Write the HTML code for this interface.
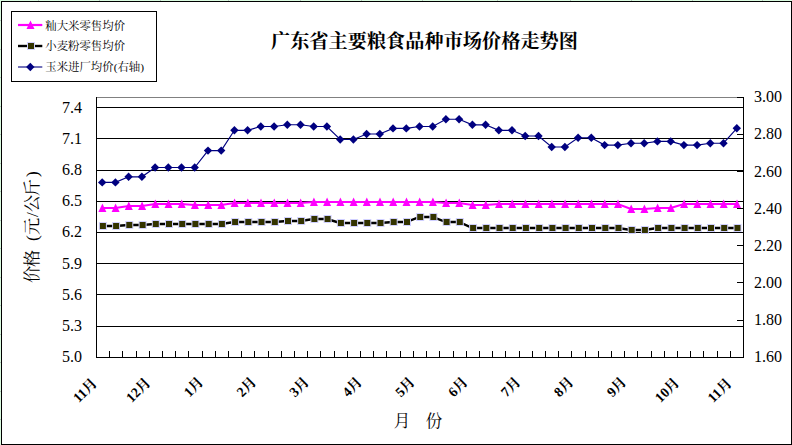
<!DOCTYPE html>
<html><head><meta charset="utf-8"><title>广东省主要粮食品种市场价格走势图</title>
<style>html,body{margin:0;padding:0;background:#fff;overflow:hidden}svg{display:block}text{font-family:"Liberation Serif","Noto Serif CJK SC",serif;fill:#000;stroke:none}</style></head><body>
<svg width="792" height="445" viewBox="0 0 792 445">
<rect x="0" y="0" width="792" height="445" fill="#fff"/>
<g shape-rendering="crispEdges">
<rect x="0" y="0" width="792" height="1" fill="#dafbe0"/><rect x="0" y="0" width="1" height="445" fill="#dafbe0"/>
<rect x="38" y="0" width="1" height="1" fill="#b9c9c0"/>
<rect x="99" y="0" width="1" height="1" fill="#b9c9c0"/>
<rect x="160" y="0" width="1" height="1" fill="#b9c9c0"/>
<rect x="228" y="0" width="1" height="1" fill="#b9c9c0"/>
<rect x="300" y="0" width="1" height="1" fill="#b9c9c0"/>
<rect x="361" y="0" width="1" height="1" fill="#b9c9c0"/>
<rect x="422" y="0" width="1" height="1" fill="#b9c9c0"/>
<rect x="497" y="0" width="1" height="1" fill="#b9c9c0"/>
<rect x="570" y="0" width="1" height="1" fill="#b9c9c0"/>
<rect x="631" y="0" width="1" height="1" fill="#b9c9c0"/>
<rect x="692" y="0" width="1" height="1" fill="#b9c9c0"/>
<rect x="762" y="0" width="1" height="1" fill="#b9c9c0"/>
<rect x="0" y="20" width="1" height="1" fill="#b9c9c0"/>
<rect x="0" y="49" width="1" height="1" fill="#b9c9c0"/>
<rect x="0" y="77" width="1" height="1" fill="#b9c9c0"/>
<rect x="0" y="106" width="1" height="1" fill="#b9c9c0"/>
<rect x="0" y="134" width="1" height="1" fill="#b9c9c0"/>
<rect x="0" y="163" width="1" height="1" fill="#b9c9c0"/>
<rect x="0" y="191" width="1" height="1" fill="#b9c9c0"/>
<rect x="0" y="220" width="1" height="1" fill="#b9c9c0"/>
<rect x="0" y="248" width="1" height="1" fill="#b9c9c0"/>
<rect x="0" y="277" width="1" height="1" fill="#b9c9c0"/>
<rect x="0" y="305" width="1" height="1" fill="#b9c9c0"/>
<rect x="0" y="334" width="1" height="1" fill="#b9c9c0"/>
<rect x="0" y="362" width="1" height="1" fill="#b9c9c0"/>
<rect x="0" y="391" width="1" height="1" fill="#b9c9c0"/>
<rect x="0" y="419" width="1" height="1" fill="#b9c9c0"/>
<rect x="1.5" y="1.5" width="790" height="443" fill="none" stroke="#000" stroke-width="1"/>
<rect x="11.5" y="11.5" width="145" height="70" fill="#fff" stroke="#000" stroke-width="1"/>
<rect x="96" y="97" width="648" height="1" fill="#808080"/>
<rect x="96" y="107" width="647" height="1" fill="#000"/>
<rect x="96" y="138" width="647" height="1" fill="#000"/>
<rect x="96" y="170" width="647" height="1" fill="#000"/>
<rect x="96" y="201" width="647" height="1" fill="#000"/>
<rect x="96" y="232" width="647" height="1" fill="#000"/>
<rect x="96" y="263" width="647" height="1" fill="#000"/>
<rect x="96" y="294" width="647" height="1" fill="#000"/>
<rect x="96" y="326" width="647" height="1" fill="#000"/>
<rect x="96" y="97" width="1" height="261" fill="#000"/>
<rect x="743" y="97" width="1" height="261" fill="#000"/>
<rect x="96" y="357" width="648" height="1" fill="#000"/>
<rect x="109" y="351" width="1" height="6" fill="#000"/>
<rect x="122" y="351" width="1" height="6" fill="#000"/>
<rect x="136" y="351" width="1" height="6" fill="#000"/>
<rect x="149" y="351" width="1" height="6" fill="#000"/>
<rect x="162" y="351" width="1" height="6" fill="#000"/>
<rect x="175" y="351" width="1" height="6" fill="#000"/>
<rect x="188" y="351" width="1" height="6" fill="#000"/>
<rect x="202" y="351" width="1" height="6" fill="#000"/>
<rect x="215" y="351" width="1" height="6" fill="#000"/>
<rect x="228" y="351" width="1" height="6" fill="#000"/>
<rect x="241" y="351" width="1" height="6" fill="#000"/>
<rect x="254" y="351" width="1" height="6" fill="#000"/>
<rect x="268" y="351" width="1" height="6" fill="#000"/>
<rect x="281" y="351" width="1" height="6" fill="#000"/>
<rect x="294" y="351" width="1" height="6" fill="#000"/>
<rect x="307" y="351" width="1" height="6" fill="#000"/>
<rect x="320" y="351" width="1" height="6" fill="#000"/>
<rect x="334" y="351" width="1" height="6" fill="#000"/>
<rect x="347" y="351" width="1" height="6" fill="#000"/>
<rect x="360" y="351" width="1" height="6" fill="#000"/>
<rect x="373" y="351" width="1" height="6" fill="#000"/>
<rect x="386" y="351" width="1" height="6" fill="#000"/>
<rect x="400" y="351" width="1" height="6" fill="#000"/>
<rect x="413" y="351" width="1" height="6" fill="#000"/>
<rect x="426" y="351" width="1" height="6" fill="#000"/>
<rect x="439" y="351" width="1" height="6" fill="#000"/>
<rect x="453" y="351" width="1" height="6" fill="#000"/>
<rect x="466" y="351" width="1" height="6" fill="#000"/>
<rect x="479" y="351" width="1" height="6" fill="#000"/>
<rect x="492" y="351" width="1" height="6" fill="#000"/>
<rect x="505" y="351" width="1" height="6" fill="#000"/>
<rect x="519" y="351" width="1" height="6" fill="#000"/>
<rect x="532" y="351" width="1" height="6" fill="#000"/>
<rect x="545" y="351" width="1" height="6" fill="#000"/>
<rect x="558" y="351" width="1" height="6" fill="#000"/>
<rect x="571" y="351" width="1" height="6" fill="#000"/>
<rect x="585" y="351" width="1" height="6" fill="#000"/>
<rect x="598" y="351" width="1" height="6" fill="#000"/>
<rect x="611" y="351" width="1" height="6" fill="#000"/>
<rect x="624" y="351" width="1" height="6" fill="#000"/>
<rect x="637" y="351" width="1" height="6" fill="#000"/>
<rect x="651" y="351" width="1" height="6" fill="#000"/>
<rect x="664" y="351" width="1" height="6" fill="#000"/>
<rect x="677" y="351" width="1" height="6" fill="#000"/>
<rect x="690" y="351" width="1" height="6" fill="#000"/>
<rect x="703" y="351" width="1" height="6" fill="#000"/>
<rect x="717" y="351" width="1" height="6" fill="#000"/>
<rect x="730" y="351" width="1" height="6" fill="#000"/>
<rect x="737" y="97" width="6" height="1" fill="#000"/>
<rect x="737" y="134" width="6" height="1" fill="#000"/>
<rect x="737" y="171" width="6" height="1" fill="#000"/>
<rect x="737" y="208" width="6" height="1" fill="#000"/>
<rect x="737" y="245" width="6" height="1" fill="#000"/>
<rect x="737" y="282" width="6" height="1" fill="#000"/>
<rect x="737" y="320" width="6" height="1" fill="#000"/>
<rect x="737" y="357" width="6" height="1" fill="#000"/>
</g>
<polyline points="102.2,182.4 115.4,182.4 128.6,176.8 141.9,176.8 155.1,167.5 168.3,167.5 181.5,167.5 194.7,167.5 208.0,150.6 221.2,150.6 234.4,130.3 247.6,130.3 260.8,126.5 274.1,126.5 287.3,124.7 300.5,124.7 313.7,126.5 326.9,126.5 340.2,139.5 353.4,139.5 366.6,134.0 379.8,134.0 393.0,128.4 406.3,128.4 419.5,126.5 432.7,126.5 445.9,119.2 459.1,119.2 472.4,124.8 485.6,124.8 498.8,130.3 512.0,130.3 525.2,136.0 538.5,136.0 551.7,147.0 564.9,147.0 578.1,137.7 591.3,137.7 604.6,145.1 617.8,145.1 631.0,143.2 644.2,143.2 657.4,141.4 670.7,141.4 683.9,145.1 697.1,145.1 710.3,143.2 723.5,143.2 736.8,128.3" fill="none" stroke="#000080" stroke-width="1.15"/>
<path d="M102.2,178.2L106.4,182.4L102.2,186.6L98.0,182.4Z" fill="#000080"/>
<path d="M115.4,178.2L119.6,182.4L115.4,186.6L111.2,182.4Z" fill="#000080"/>
<path d="M128.6,172.6L132.8,176.8L128.6,181.0L124.4,176.8Z" fill="#000080"/>
<path d="M141.9,172.6L146.1,176.8L141.9,181.0L137.7,176.8Z" fill="#000080"/>
<path d="M155.1,163.3L159.3,167.5L155.1,171.7L150.9,167.5Z" fill="#000080"/>
<path d="M168.3,163.3L172.5,167.5L168.3,171.7L164.1,167.5Z" fill="#000080"/>
<path d="M181.5,163.3L185.7,167.5L181.5,171.7L177.3,167.5Z" fill="#000080"/>
<path d="M194.7,163.3L198.9,167.5L194.7,171.7L190.5,167.5Z" fill="#000080"/>
<path d="M208.0,146.4L212.2,150.6L208.0,154.8L203.8,150.6Z" fill="#000080"/>
<path d="M221.2,146.4L225.4,150.6L221.2,154.8L217.0,150.6Z" fill="#000080"/>
<path d="M234.4,126.1L238.6,130.3L234.4,134.5L230.2,130.3Z" fill="#000080"/>
<path d="M247.6,126.1L251.8,130.3L247.6,134.5L243.4,130.3Z" fill="#000080"/>
<path d="M260.8,122.3L265.0,126.5L260.8,130.7L256.6,126.5Z" fill="#000080"/>
<path d="M274.1,122.3L278.3,126.5L274.1,130.7L269.9,126.5Z" fill="#000080"/>
<path d="M287.3,120.5L291.5,124.7L287.3,128.9L283.1,124.7Z" fill="#000080"/>
<path d="M300.5,120.5L304.7,124.7L300.5,128.9L296.3,124.7Z" fill="#000080"/>
<path d="M313.7,122.3L317.9,126.5L313.7,130.7L309.5,126.5Z" fill="#000080"/>
<path d="M326.9,122.3L331.1,126.5L326.9,130.7L322.7,126.5Z" fill="#000080"/>
<path d="M340.2,135.3L344.4,139.5L340.2,143.7L336.0,139.5Z" fill="#000080"/>
<path d="M353.4,135.3L357.6,139.5L353.4,143.7L349.2,139.5Z" fill="#000080"/>
<path d="M366.6,129.8L370.8,134.0L366.6,138.2L362.4,134.0Z" fill="#000080"/>
<path d="M379.8,129.8L384.0,134.0L379.8,138.2L375.6,134.0Z" fill="#000080"/>
<path d="M393.0,124.2L397.2,128.4L393.0,132.6L388.8,128.4Z" fill="#000080"/>
<path d="M406.3,124.2L410.5,128.4L406.3,132.6L402.1,128.4Z" fill="#000080"/>
<path d="M419.5,122.3L423.7,126.5L419.5,130.7L415.3,126.5Z" fill="#000080"/>
<path d="M432.7,122.3L436.9,126.5L432.7,130.7L428.5,126.5Z" fill="#000080"/>
<path d="M445.9,115.0L450.1,119.2L445.9,123.4L441.7,119.2Z" fill="#000080"/>
<path d="M459.1,115.0L463.3,119.2L459.1,123.4L454.9,119.2Z" fill="#000080"/>
<path d="M472.4,120.6L476.6,124.8L472.4,129.0L468.2,124.8Z" fill="#000080"/>
<path d="M485.6,120.6L489.8,124.8L485.6,129.0L481.4,124.8Z" fill="#000080"/>
<path d="M498.8,126.1L503.0,130.3L498.8,134.5L494.6,130.3Z" fill="#000080"/>
<path d="M512.0,126.1L516.2,130.3L512.0,134.5L507.8,130.3Z" fill="#000080"/>
<path d="M525.2,131.8L529.4,136.0L525.2,140.2L521.0,136.0Z" fill="#000080"/>
<path d="M538.5,131.8L542.7,136.0L538.5,140.2L534.3,136.0Z" fill="#000080"/>
<path d="M551.7,142.8L555.9,147.0L551.7,151.2L547.5,147.0Z" fill="#000080"/>
<path d="M564.9,142.8L569.1,147.0L564.9,151.2L560.7,147.0Z" fill="#000080"/>
<path d="M578.1,133.5L582.3,137.7L578.1,141.9L573.9,137.7Z" fill="#000080"/>
<path d="M591.3,133.5L595.5,137.7L591.3,141.9L587.1,137.7Z" fill="#000080"/>
<path d="M604.6,140.9L608.8,145.1L604.6,149.3L600.4,145.1Z" fill="#000080"/>
<path d="M617.8,140.9L622.0,145.1L617.8,149.3L613.6,145.1Z" fill="#000080"/>
<path d="M631.0,139.0L635.2,143.2L631.0,147.4L626.8,143.2Z" fill="#000080"/>
<path d="M644.2,139.0L648.4,143.2L644.2,147.4L640.0,143.2Z" fill="#000080"/>
<path d="M657.4,137.2L661.6,141.4L657.4,145.6L653.2,141.4Z" fill="#000080"/>
<path d="M670.7,137.2L674.9,141.4L670.7,145.6L666.5,141.4Z" fill="#000080"/>
<path d="M683.9,140.9L688.1,145.1L683.9,149.3L679.7,145.1Z" fill="#000080"/>
<path d="M697.1,140.9L701.3,145.1L697.1,149.3L692.9,145.1Z" fill="#000080"/>
<path d="M710.3,139.0L714.5,143.2L710.3,147.4L706.1,143.2Z" fill="#000080"/>
<path d="M723.5,139.0L727.7,143.2L723.5,147.4L719.3,143.2Z" fill="#000080"/>
<path d="M736.8,124.1L741.0,128.3L736.8,132.5L732.6,128.3Z" fill="#000080"/>
<polyline points="102.2,208.0 115.4,208.0 128.6,206.0 141.9,206.0 155.1,204.0 168.3,204.0 181.5,204.0 194.7,205.0 208.0,205.0 221.2,205.0 234.4,203.0 247.6,203.0 260.8,203.0 274.1,203.0 287.3,203.0 300.5,203.0 313.7,202.0 326.9,202.0 340.2,202.0 353.4,202.0 366.6,202.0 379.8,202.0 393.0,202.0 406.3,202.0 419.5,202.0 432.7,202.0 445.9,203.0 459.1,203.0 472.4,205.0 485.6,205.0 498.8,204.0 512.0,204.0 525.2,204.0 538.5,204.0 551.7,204.0 564.9,204.0 578.1,204.0 591.3,204.0 604.6,204.0 617.8,204.0 631.0,209.0 644.2,209.0 657.4,208.0 670.7,208.0 683.9,204.0 697.1,204.0 710.3,204.0 723.5,204.0 736.8,204.0" fill="none" stroke="#ff00ff" stroke-width="2.05"/>
<path d="M102.4,203.4L106.4,212.0L98.4,212.0Z" fill="#ff00ff"/>
<path d="M115.6,203.4L119.6,212.0L111.6,212.0Z" fill="#ff00ff"/>
<path d="M128.8,201.4L132.8,210.0L124.8,210.0Z" fill="#ff00ff"/>
<path d="M142.1,201.4L146.1,210.0L138.1,210.0Z" fill="#ff00ff"/>
<path d="M155.3,199.4L159.3,208.0L151.3,208.0Z" fill="#ff00ff"/>
<path d="M168.5,199.4L172.5,208.0L164.5,208.0Z" fill="#ff00ff"/>
<path d="M181.7,199.4L185.7,208.0L177.7,208.0Z" fill="#ff00ff"/>
<path d="M194.9,200.4L198.9,209.0L190.9,209.0Z" fill="#ff00ff"/>
<path d="M208.2,200.4L212.2,209.0L204.2,209.0Z" fill="#ff00ff"/>
<path d="M221.4,200.4L225.4,209.0L217.4,209.0Z" fill="#ff00ff"/>
<path d="M234.6,198.4L238.6,207.0L230.6,207.0Z" fill="#ff00ff"/>
<path d="M247.8,198.4L251.8,207.0L243.8,207.0Z" fill="#ff00ff"/>
<path d="M261.0,198.4L265.0,207.0L257.0,207.0Z" fill="#ff00ff"/>
<path d="M274.3,198.4L278.3,207.0L270.3,207.0Z" fill="#ff00ff"/>
<path d="M287.5,198.4L291.5,207.0L283.5,207.0Z" fill="#ff00ff"/>
<path d="M300.7,198.4L304.7,207.0L296.7,207.0Z" fill="#ff00ff"/>
<path d="M313.9,197.4L317.9,206.0L309.9,206.0Z" fill="#ff00ff"/>
<path d="M327.1,197.4L331.1,206.0L323.1,206.0Z" fill="#ff00ff"/>
<path d="M340.4,197.4L344.4,206.0L336.4,206.0Z" fill="#ff00ff"/>
<path d="M353.6,197.4L357.6,206.0L349.6,206.0Z" fill="#ff00ff"/>
<path d="M366.8,197.4L370.8,206.0L362.8,206.0Z" fill="#ff00ff"/>
<path d="M380.0,197.4L384.0,206.0L376.0,206.0Z" fill="#ff00ff"/>
<path d="M393.2,197.4L397.2,206.0L389.2,206.0Z" fill="#ff00ff"/>
<path d="M406.5,197.4L410.5,206.0L402.5,206.0Z" fill="#ff00ff"/>
<path d="M419.7,197.4L423.7,206.0L415.7,206.0Z" fill="#ff00ff"/>
<path d="M432.9,197.4L436.9,206.0L428.9,206.0Z" fill="#ff00ff"/>
<path d="M446.1,198.4L450.1,207.0L442.1,207.0Z" fill="#ff00ff"/>
<path d="M459.3,198.4L463.3,207.0L455.3,207.0Z" fill="#ff00ff"/>
<path d="M472.6,200.4L476.6,209.0L468.6,209.0Z" fill="#ff00ff"/>
<path d="M485.8,200.4L489.8,209.0L481.8,209.0Z" fill="#ff00ff"/>
<path d="M499.0,199.4L503.0,208.0L495.0,208.0Z" fill="#ff00ff"/>
<path d="M512.2,199.4L516.2,208.0L508.2,208.0Z" fill="#ff00ff"/>
<path d="M525.4,199.4L529.4,208.0L521.4,208.0Z" fill="#ff00ff"/>
<path d="M538.7,199.4L542.7,208.0L534.7,208.0Z" fill="#ff00ff"/>
<path d="M551.9,199.4L555.9,208.0L547.9,208.0Z" fill="#ff00ff"/>
<path d="M565.1,199.4L569.1,208.0L561.1,208.0Z" fill="#ff00ff"/>
<path d="M578.3,199.4L582.3,208.0L574.3,208.0Z" fill="#ff00ff"/>
<path d="M591.5,199.4L595.5,208.0L587.5,208.0Z" fill="#ff00ff"/>
<path d="M604.8,199.4L608.8,208.0L600.8,208.0Z" fill="#ff00ff"/>
<path d="M618.0,199.4L622.0,208.0L614.0,208.0Z" fill="#ff00ff"/>
<path d="M631.2,204.4L635.2,213.0L627.2,213.0Z" fill="#ff00ff"/>
<path d="M644.4,204.4L648.4,213.0L640.4,213.0Z" fill="#ff00ff"/>
<path d="M657.6,203.4L661.6,212.0L653.6,212.0Z" fill="#ff00ff"/>
<path d="M670.9,203.4L674.9,212.0L666.9,212.0Z" fill="#ff00ff"/>
<path d="M684.1,199.4L688.1,208.0L680.1,208.0Z" fill="#ff00ff"/>
<path d="M697.3,199.4L701.3,208.0L693.3,208.0Z" fill="#ff00ff"/>
<path d="M710.5,199.4L714.5,208.0L706.5,208.0Z" fill="#ff00ff"/>
<path d="M723.7,199.4L727.7,208.0L719.7,208.0Z" fill="#ff00ff"/>
<path d="M737.0,199.4L741.0,208.0L733.0,208.0Z" fill="#ff00ff"/>
<polyline points="102.2,226.0 115.4,226.0 128.6,225.0 141.9,225.0 155.1,224.0 168.3,224.0 181.5,224.0 194.7,224.0 208.0,224.0 221.2,224.0 234.4,222.0 247.6,222.0 260.8,222.0 274.1,222.0 287.3,221.0 300.5,221.0 313.7,219.0 326.9,219.0 340.2,223.0 353.4,223.0 366.6,223.0 379.8,223.0 393.0,222.0 406.3,222.0 419.5,217.0 432.7,217.0 445.9,222.0 459.1,222.0 472.4,228.0 485.6,228.0 498.8,228.0 512.0,228.0 525.2,228.0 538.5,228.0 551.7,228.0 564.9,228.0 578.1,228.0 591.3,228.0 604.6,228.0 617.8,228.0 631.0,230.0 644.2,230.0 657.4,228.0 670.7,228.0 683.9,228.0 697.1,228.0 710.3,228.0 723.5,228.0 736.8,228.0" fill="none" stroke="#000" stroke-width="2.4"/>
<rect x="98.9" y="222.0" width="8" height="8" fill="#d0d0ff"/><rect x="99.9" y="223.0" width="6" height="6" fill="#333300"/>
<rect x="112.1" y="222.0" width="8" height="8" fill="#d0d0ff"/><rect x="113.1" y="223.0" width="6" height="6" fill="#333300"/>
<rect x="125.3" y="221.0" width="8" height="8" fill="#d0d0ff"/><rect x="126.3" y="222.0" width="6" height="6" fill="#333300"/>
<rect x="138.6" y="221.0" width="8" height="8" fill="#d0d0ff"/><rect x="139.6" y="222.0" width="6" height="6" fill="#333300"/>
<rect x="151.8" y="220.0" width="8" height="8" fill="#d0d0ff"/><rect x="152.8" y="221.0" width="6" height="6" fill="#333300"/>
<rect x="165.0" y="220.0" width="8" height="8" fill="#d0d0ff"/><rect x="166.0" y="221.0" width="6" height="6" fill="#333300"/>
<rect x="178.2" y="220.0" width="8" height="8" fill="#d0d0ff"/><rect x="179.2" y="221.0" width="6" height="6" fill="#333300"/>
<rect x="191.4" y="220.0" width="8" height="8" fill="#d0d0ff"/><rect x="192.4" y="221.0" width="6" height="6" fill="#333300"/>
<rect x="204.7" y="220.0" width="8" height="8" fill="#d0d0ff"/><rect x="205.7" y="221.0" width="6" height="6" fill="#333300"/>
<rect x="217.9" y="220.0" width="8" height="8" fill="#d0d0ff"/><rect x="218.9" y="221.0" width="6" height="6" fill="#333300"/>
<rect x="231.1" y="218.0" width="8" height="8" fill="#d0d0ff"/><rect x="232.1" y="219.0" width="6" height="6" fill="#333300"/>
<rect x="244.3" y="218.0" width="8" height="8" fill="#d0d0ff"/><rect x="245.3" y="219.0" width="6" height="6" fill="#333300"/>
<rect x="257.5" y="218.0" width="8" height="8" fill="#d0d0ff"/><rect x="258.5" y="219.0" width="6" height="6" fill="#333300"/>
<rect x="270.8" y="218.0" width="8" height="8" fill="#d0d0ff"/><rect x="271.8" y="219.0" width="6" height="6" fill="#333300"/>
<rect x="284.0" y="217.0" width="8" height="8" fill="#d0d0ff"/><rect x="285.0" y="218.0" width="6" height="6" fill="#333300"/>
<rect x="297.2" y="217.0" width="8" height="8" fill="#d0d0ff"/><rect x="298.2" y="218.0" width="6" height="6" fill="#333300"/>
<rect x="310.4" y="215.0" width="8" height="8" fill="#d0d0ff"/><rect x="311.4" y="216.0" width="6" height="6" fill="#333300"/>
<rect x="323.6" y="215.0" width="8" height="8" fill="#d0d0ff"/><rect x="324.6" y="216.0" width="6" height="6" fill="#333300"/>
<rect x="336.9" y="219.0" width="8" height="8" fill="#d0d0ff"/><rect x="337.9" y="220.0" width="6" height="6" fill="#333300"/>
<rect x="350.1" y="219.0" width="8" height="8" fill="#d0d0ff"/><rect x="351.1" y="220.0" width="6" height="6" fill="#333300"/>
<rect x="363.3" y="219.0" width="8" height="8" fill="#d0d0ff"/><rect x="364.3" y="220.0" width="6" height="6" fill="#333300"/>
<rect x="376.5" y="219.0" width="8" height="8" fill="#d0d0ff"/><rect x="377.5" y="220.0" width="6" height="6" fill="#333300"/>
<rect x="389.7" y="218.0" width="8" height="8" fill="#d0d0ff"/><rect x="390.7" y="219.0" width="6" height="6" fill="#333300"/>
<rect x="403.0" y="218.0" width="8" height="8" fill="#d0d0ff"/><rect x="404.0" y="219.0" width="6" height="6" fill="#333300"/>
<rect x="416.2" y="213.0" width="8" height="8" fill="#d0d0ff"/><rect x="417.2" y="214.0" width="6" height="6" fill="#333300"/>
<rect x="429.4" y="213.0" width="8" height="8" fill="#d0d0ff"/><rect x="430.4" y="214.0" width="6" height="6" fill="#333300"/>
<rect x="442.6" y="218.0" width="8" height="8" fill="#d0d0ff"/><rect x="443.6" y="219.0" width="6" height="6" fill="#333300"/>
<rect x="455.8" y="218.0" width="8" height="8" fill="#d0d0ff"/><rect x="456.8" y="219.0" width="6" height="6" fill="#333300"/>
<rect x="469.1" y="224.0" width="8" height="8" fill="#d0d0ff"/><rect x="470.1" y="225.0" width="6" height="6" fill="#333300"/>
<rect x="482.3" y="224.0" width="8" height="8" fill="#d0d0ff"/><rect x="483.3" y="225.0" width="6" height="6" fill="#333300"/>
<rect x="495.5" y="224.0" width="8" height="8" fill="#d0d0ff"/><rect x="496.5" y="225.0" width="6" height="6" fill="#333300"/>
<rect x="508.7" y="224.0" width="8" height="8" fill="#d0d0ff"/><rect x="509.7" y="225.0" width="6" height="6" fill="#333300"/>
<rect x="521.9" y="224.0" width="8" height="8" fill="#d0d0ff"/><rect x="522.9" y="225.0" width="6" height="6" fill="#333300"/>
<rect x="535.2" y="224.0" width="8" height="8" fill="#d0d0ff"/><rect x="536.2" y="225.0" width="6" height="6" fill="#333300"/>
<rect x="548.4" y="224.0" width="8" height="8" fill="#d0d0ff"/><rect x="549.4" y="225.0" width="6" height="6" fill="#333300"/>
<rect x="561.6" y="224.0" width="8" height="8" fill="#d0d0ff"/><rect x="562.6" y="225.0" width="6" height="6" fill="#333300"/>
<rect x="574.8" y="224.0" width="8" height="8" fill="#d0d0ff"/><rect x="575.8" y="225.0" width="6" height="6" fill="#333300"/>
<rect x="588.0" y="224.0" width="8" height="8" fill="#d0d0ff"/><rect x="589.0" y="225.0" width="6" height="6" fill="#333300"/>
<rect x="601.3" y="224.0" width="8" height="8" fill="#d0d0ff"/><rect x="602.3" y="225.0" width="6" height="6" fill="#333300"/>
<rect x="614.5" y="224.0" width="8" height="8" fill="#d0d0ff"/><rect x="615.5" y="225.0" width="6" height="6" fill="#333300"/>
<rect x="627.7" y="226.0" width="8" height="8" fill="#d0d0ff"/><rect x="628.7" y="227.0" width="6" height="6" fill="#333300"/>
<rect x="640.9" y="226.0" width="8" height="8" fill="#d0d0ff"/><rect x="641.9" y="227.0" width="6" height="6" fill="#333300"/>
<rect x="654.1" y="224.0" width="8" height="8" fill="#d0d0ff"/><rect x="655.1" y="225.0" width="6" height="6" fill="#333300"/>
<rect x="667.4" y="224.0" width="8" height="8" fill="#d0d0ff"/><rect x="668.4" y="225.0" width="6" height="6" fill="#333300"/>
<rect x="680.6" y="224.0" width="8" height="8" fill="#d0d0ff"/><rect x="681.6" y="225.0" width="6" height="6" fill="#333300"/>
<rect x="693.8" y="224.0" width="8" height="8" fill="#d0d0ff"/><rect x="694.8" y="225.0" width="6" height="6" fill="#333300"/>
<rect x="707.0" y="224.0" width="8" height="8" fill="#d0d0ff"/><rect x="708.0" y="225.0" width="6" height="6" fill="#333300"/>
<rect x="720.2" y="224.0" width="8" height="8" fill="#d0d0ff"/><rect x="721.2" y="225.0" width="6" height="6" fill="#333300"/>
<rect x="733.5" y="224.0" width="8" height="8" fill="#d0d0ff"/><rect x="734.5" y="225.0" width="6" height="6" fill="#333300"/>
<line x1="18" y1="25" x2="42.3" y2="25" stroke="#ff00ff" stroke-width="2.2"/>
<path d="M30.5,20.4L34.5,29L26.5,29Z" fill="#ff00ff"/>
<line x1="18" y1="46" x2="42.3" y2="46" stroke="#000" stroke-width="2.4"/>
<rect x="27.0" y="42" width="8" height="8" fill="#d0d0ff"/><rect x="28.0" y="43" width="6" height="6" fill="#333300"/>
<line x1="18" y1="67" x2="42.3" y2="67" stroke="#000080" stroke-width="1.1"/>
<path d="M30.3,62.8L34.5,67L30.3,71.2L26.1,67Z" fill="#000080"/>
<text x="45.3" y="29.6" font-size="11.4">籼大米零售均价</text>
<text x="45.3" y="50.2" font-size="11.4">小麦粉零售均价</text>
<text x="45.3" y="71.2" font-size="11.4">玉米进厂均价(右轴)</text>
<text x="271" y="47.7" font-size="19.2" font-weight="bold">广东省主要粮食品种市场价格走势图</text>
<g font-size="16">
<text x="62" y="113">7.4</text>
<text x="62" y="144">7.1</text>
<text x="62" y="175">6.8</text>
<text x="62" y="206">6.5</text>
<text x="62" y="237">6.2</text>
<text x="62" y="269">5.9</text>
<text x="62" y="300">5.6</text>
<text x="62" y="331">5.3</text>
<text x="62" y="362">5.0</text>
<text x="754" y="102">3.00</text>
<text x="754" y="139">2.80</text>
<text x="754" y="177">2.60</text>
<text x="754" y="214">2.40</text>
<text x="754" y="251">2.20</text>
<text x="754" y="288">2.00</text>
<text x="754" y="325">1.80</text>
<text x="754" y="362">1.60</text>
</g>
<g font-size="14" font-weight="bold" style='font-family:"Liberation Sans","Noto Serif CJK SC",sans-serif'>
<text x="0" y="0" transform="translate(92.2,371.5) rotate(-45) translate(-32,13)">11月</text>
<text x="0" y="0" transform="translate(145.1,371.5) rotate(-45) translate(-32,13)">12月</text>
<text x="0" y="0" transform="translate(197.2,371.5) rotate(-45) translate(-24,13)">1月</text>
<text x="0" y="0" transform="translate(250.0,371.5) rotate(-45) translate(-24,13)">2月</text>
<text x="0" y="0" transform="translate(302.9,371.5) rotate(-45) translate(-24,13)">3月</text>
<text x="0" y="0" transform="translate(355.8,371.5) rotate(-45) translate(-24,13)">4月</text>
<text x="0" y="0" transform="translate(408.7,371.5) rotate(-45) translate(-24,13)">5月</text>
<text x="0" y="0" transform="translate(461.6,371.5) rotate(-45) translate(-24,13)">6月</text>
<text x="0" y="0" transform="translate(514.4,371.5) rotate(-45) translate(-24,13)">7月</text>
<text x="0" y="0" transform="translate(567.3,371.5) rotate(-45) translate(-24,13)">8月</text>
<text x="0" y="0" transform="translate(620.2,371.5) rotate(-45) translate(-24,13)">9月</text>
<text x="0" y="0" transform="translate(673.9,371.5) rotate(-45) translate(-32,13)">10月</text>
<text x="0" y="0" transform="translate(726.8,371.5) rotate(-45) translate(-32,13)">11月</text>
</g>
<text x="393.7" y="426.8" font-size="16.6">月</text>
<text x="425.7" y="426.8" font-size="16.6">份</text>
<text x="-0.6 15.4 41.5 47.4 65.5 70.4 86.2 105.5" y="0.3" font-size="17.2" transform="translate(37.5,282.5) rotate(-90)">价格(元/公斤)</text>
</svg></body></html>
